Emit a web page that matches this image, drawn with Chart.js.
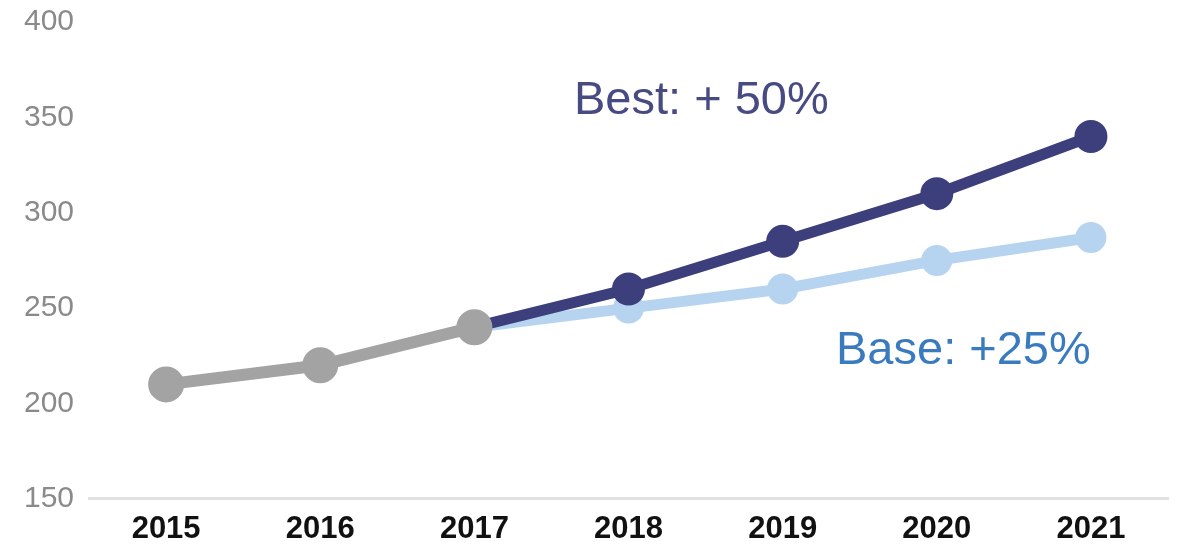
<!DOCTYPE html>
<html>
<head>
<meta charset="utf-8">
<script src="https://cdn.jsdelivr.net/npm/chart.js@4"></script>
<style>
  html, body { margin: 0; padding: 0; background: #fff; }
  canvas { display: block; }
</style>
</head>
<body>
<canvas id="forecastChart" width="1186" height="546"></canvas>
<script>
// Years and scenario values
const years = ['2015', '2016', '2017', '2018', '2019', '2020', '2021'];
const actual = [210, 220, 240, null, null, null, null];
const bestCase = [null, null, 240, 260, 285, 310, 340];
const baseCase = [null, null, 240, 250, 260, 275, 287];
const yTicks = [150, 200, 250, 300, 350, 400];

const FONT = '"Liberation Sans", Arial, sans-serif';

// Scenario captions next to the projected lines
const captions = {
    id: 'captions',
    afterDatasetsDraw(chart) {
        const ctx = chart.ctx;
        ctx.save();
        ctx.textAlign = 'left';
        ctx.textBaseline = 'alphabetic';
        ctx.font = '47px ' + FONT;
        ctx.fillStyle = '#474b81';
        ctx.fillText('Best: + 50%', 574, 114);
        ctx.fillStyle = '#3a7bbf';
        ctx.fillText('Base: +25%', 836, 364);
        ctx.restore();
    }
};

const ctx = document.getElementById('forecastChart').getContext('2d');
new Chart(ctx, {
    type: 'line',
    data: {
        labels: years,
        datasets: [{
            label: 'Actual',
            data: actual,
            borderColor: '#a3a3a3',
            backgroundColor: '#a3a3a3',
            borderWidth: 12,
            pointRadius: 12,
            pointHoverRadius: 12
        }, {
            label: 'Best',
            data: bestCase,
            borderColor: '#3c3f7c',
            backgroundColor: '#3c3f7c',
            borderWidth: 11,
            pointRadius: 11,
            pointHoverRadius: 11
        }, {
            label: 'Base',
            data: baseCase,
            borderColor: '#b6d4ef',
            backgroundColor: '#b6d4ef',
            borderWidth: 11,
            pointRadius: 10,
            pointHoverRadius: 10
        }]
    },
    options: {
        responsive: false,
        animation: false,
        layout: {
            autoPadding: false,
            padding: { left: 9, right: 18, top: 0, bottom: -14 }
        },
        plugins: {
            legend: { display: false },
            tooltip: { enabled: false }
        },
        scales: {
            x: {
                offset: true,
                grid: { display: false, drawTicks: false },
                border: { display: true, color: '#e2e2e2', width: 3 },
                ticks: {
                    color: '#111',
                    padding: 12,
                    font: { family: FONT, size: 31, weight: 'bold' }
                }
            },
            y: {
                min: 150,
                max: 400,
                afterBuildTicks(scale) {
                    scale.ticks = yTicks.map(v => ({ value: v }));
                },
                grid: { display: false, drawTicks: false },
                border: { display: false },
                ticks: {
                    color: '#8a8a8a',
                    padding: 15,
                    font: { family: FONT, size: 30, lineHeight: 0.47 }
                }
            }
        }
    },
    plugins: [captions]
});
</script>
</body>
</html>
